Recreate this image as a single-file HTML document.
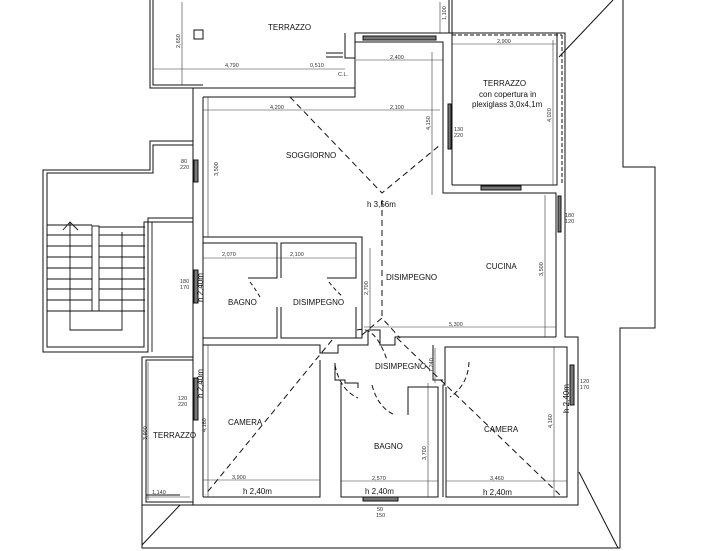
<!DOCTYPE html>
<html><head><meta charset="utf-8"><style>
html,body{margin:0;padding:0;background:#fff;}
svg{display:block;}
text{font-family:"Liberation Sans",sans-serif;fill:#111;}
.s{font-size:5.5px;fill:#333}
.r{font-size:8px}
</style></head><body>
<svg width="710" height="551" viewBox="0 0 710 551" xmlns="http://www.w3.org/2000/svg">
<g fill="none" stroke="#111" stroke-width="1">
<polyline points="623,0 623,167 655,167 655,328 620,328 620,548 142,548 142,505"/>
<line x1="613" y1="0" x2="559" y2="57"/>
<line x1="579" y1="472" x2="618" y2="548"/>
<line x1="142" y1="545" x2="180" y2="505"/>
<polyline points="150,0 150,88 193,88"/>
<polyline points="153,0 153,85 203,85"/>
<polyline points="449,0 449,33"/>
<polyline points="452,0 452,33"/>
<rect x="194" y="30" width="9" height="9"/>
<line x1="326" y1="53" x2="343" y2="53"/><line x1="326" y1="57" x2="343" y2="57"/>
<polyline points="193,141 150,141 150,170 43,170 43,352 148,352 148,218 193,218"/>
<polyline points="193,145 153,145 153,173 47,173 47,347 144,347 144,222 193,222"/>
<g stroke-width="0.9">
<line x1="47" y1="225" x2="92" y2="225"/><line x1="99" y1="227" x2="145" y2="227"/>
<line x1="47" y1="235" x2="92" y2="235"/><line x1="99" y1="235" x2="145" y2="235"/>
<line x1="47" y1="246" x2="92" y2="246"/><line x1="99" y1="246" x2="145" y2="246"/>
<line x1="47" y1="257" x2="92" y2="257"/><line x1="99" y1="257" x2="145" y2="257"/>
<line x1="47" y1="268" x2="92" y2="268"/><line x1="99" y1="268" x2="145" y2="268"/>
<line x1="47" y1="279" x2="92" y2="279"/><line x1="99" y1="279" x2="145" y2="279"/>
<line x1="47" y1="289" x2="92" y2="289"/><line x1="99" y1="289" x2="145" y2="289"/>
<line x1="47" y1="300" x2="92" y2="300"/><line x1="99" y1="300" x2="145" y2="300"/>
<line x1="47" y1="311" x2="145" y2="311"/>
<rect x="92" y="226" width="7" height="85"/>
<polyline points="70,222 70,330 122,330 122,232"/>
<polyline points="63,230 70,222 78,230"/>
<line x1="152" y1="222" x2="152" y2="352"/>
</g>
<rect x="142" y="357" width="51" height="148"/>
<rect x="146" y="360" width="47" height="142"/>
<line x1="146" y1="495" x2="180" y2="495"/>
<polyline points="193,88 355,88 355,33 565,33 565,193 565,337 578,337 578,472 578,505 193,505 193,88"/>
<line x1="203" y1="97" x2="203" y2="497"/>
<polyline points="203,97 355,97 355,58 345,58 345,33"/>
<polyline points="355,42 443,42 443,187"/>
<rect x="363" y="36" width="73" height="4" fill="#777"/>
<line x1="452" y1="33" x2="452" y2="185"/>
<polyline points="443,187 443,193 556,193 556,337"/>
<polyline points="452,185 557,185 557,33"/>
<rect x="448" y="104" width="3" height="45" fill="#777"/>
<rect x="481" y="186" width="40" height="4" fill="#777"/>
<rect x="558" y="196" width="3" height="36" fill="#777"/>
<line x1="452" y1="35" x2="562" y2="35" stroke-dasharray="4,2"/>
<line x1="562" y1="35" x2="562" y2="185" stroke-dasharray="4,2"/>
<rect x="194" y="160" width="4" height="22" fill="#777"/>
<rect x="194" y="270" width="4" height="33" fill="#777"/>
<rect x="194" y="378" width="4" height="42" fill="#777"/>
<rect x="570" y="365" width="4" height="40" fill="#777"/>
<rect x="363" y="497" width="35" height="4" fill="#777"/>
<polyline points="203,237 362,237 362,338 347,338"/>
<polyline points="203,243 277,243 277,278 248,278"/>
<polyline points="281,278 281,243 356,243 356,278 327,278"/>
<polyline points="277,307 277,338 203,338"/>
<polyline points="281,307 281,338 356,338 356,307"/>
<polyline points="203,345 320,345 320,353 338,353 338,345 368,345 368,330 380,330 380,345 395,345 395,337 556,337"/>
<polyline points="335,363 335,380 345,380 345,383 358,383 358,388"/>
<polyline points="203,497 320,497 320,360"/>
<polyline points="341,383 341,497 438,497 438,387 408,387 408,415"/>
<polyline points="443,497 443,385 445,385 445,347 567,347 567,497 446,497 446,387"/>
<polyline points="433,345 433,380 443,380"/>
<path d="M335,365 Q340,390 358,398" stroke-dasharray="5,3"/>
<path d="M372,385 Q378,408 395,415" stroke-dasharray="5,3"/>
<path d="M469,362 Q468,385 450,397" stroke-dasharray="5,3"/>
<path d="M357,330 Q375,325 387,360" stroke-dasharray="5,3"/>
<path d="M250,282 Q256,290 260,297" stroke-dasharray="4,3"/>
<path d="M329,282 Q335,290 343,297" stroke-dasharray="4,3"/>
<g stroke-dasharray="6,4">
<polyline points="290,97 382,193 440,145"/>
<line x1="382" y1="200" x2="382" y2="318"/>
<polyline points="362,335 382,318 400,338"/>
<line x1="332" y1="340" x2="205" y2="495"/>
<line x1="397" y1="338" x2="560" y2="495"/>
</g>
<g stroke-width="0.6" stroke="#333">
<line x1="153" y1="69" x2="345" y2="69"/>
<line x1="356" y1="60" x2="443" y2="60"/>
<line x1="203" y1="110" x2="440" y2="110"/>
<line x1="452" y1="44" x2="556" y2="44"/>
<line x1="432" y1="52" x2="432" y2="195"/>
<line x1="553" y1="40" x2="553" y2="185"/>
<line x1="182" y1="2" x2="182" y2="85"/>
<line x1="440" y1="2" x2="440" y2="33"/>
<line x1="208" y1="97" x2="208" y2="237"/>
<line x1="203" y1="258" x2="356" y2="258"/>
<line x1="370" y1="248" x2="370" y2="330"/>
<line x1="364" y1="327" x2="556" y2="327"/>
<line x1="545" y1="195" x2="545" y2="337"/>
<line x1="435" y1="348" x2="435" y2="383"/>
<line x1="208" y1="345" x2="208" y2="497"/>
<line x1="203" y1="480" x2="320" y2="480"/>
<line x1="341" y1="481" x2="438" y2="481"/>
<line x1="446" y1="481" x2="567" y2="481"/>
<line x1="428" y1="383" x2="428" y2="497"/>
<line x1="554" y1="347" x2="554" y2="497"/>
<line x1="146" y1="497" x2="190" y2="497"/>
<line x1="148" y1="362" x2="148" y2="500"/>
</g>
</g>
<text class="r" x="268" y="30">TERRAZZO</text>
<text class="r" x="483" y="86">TERRAZZO</text>
<text class="r" x="479" y="97" font-size="7.5">con copertura in</text>
<text class="r" x="472" y="107" font-size="7.5">plexiglass 3,0x4,1m</text>
<text class="r" x="286" y="158">SOGGIORNO</text>
<text class="r" x="367" y="207">h 3,56m</text>
<text class="r" x="386" y="280">DISIMPEGNO</text>
<text class="r" x="486" y="269">CUCINA</text>
<text class="r" x="228" y="305">BAGNO</text>
<text class="r" x="293" y="305">DISIMPEGNO</text>
<text class="r" x="375" y="369">DISIMPEGNO</text>
<text class="r" x="228" y="425">CAMERA</text>
<text class="r" x="374" y="449">BAGNO</text>
<text class="r" x="484" y="432">CAMERA</text>
<text class="r" x="153" y="438">TERRAZZO</text>
<text class="r" x="243" y="494">h 2,40m</text>
<text class="r" x="365" y="494">h 2,40m</text>
<text class="r" x="483" y="495">h 2,40m</text>
<text class="r" transform="translate(203,302) rotate(-90)">h 2,40m</text>
<text class="r" transform="translate(203,398) rotate(-90)">h 2,40m</text>
<text class="r" transform="translate(569,413) rotate(-90)">h 2,40m</text>
<text class="s" x="225" y="67">4,790</text>
<text class="s" x="310" y="67">0,510</text>
<text class="s" x="338" y="76">C.L.</text>
<text class="s" x="390" y="59">2,400</text>
<text class="s" x="497" y="43">2,900</text>
<text class="s" x="270" y="109">4,200</text>
<text class="s" x="390" y="109">2,100</text>
<text class="s" x="222" y="256">2,070</text>
<text class="s" x="290" y="256">2,100</text>
<text class="s" x="449" y="326">5,300</text>
<text class="s" x="232" y="479">3,900</text>
<text class="s" x="372" y="480">2,570</text>
<text class="s" x="490" y="480">3,460</text>
<text class="s" x="152" y="494">1,140</text>
<text class="s" transform="translate(180,48) rotate(-90)">2,650</text>
<text class="s" transform="translate(446,20) rotate(-90)">1,100</text>
<text class="s" transform="translate(430,130) rotate(-90)">4,150</text>
<text class="s" transform="translate(551,122) rotate(-90)">4,020</text>
<text class="s" transform="translate(218,176) rotate(-90)">3,500</text>
<text class="s" transform="translate(368,295) rotate(-90)">2,700</text>
<text class="s" transform="translate(543,276) rotate(-90)">3,500</text>
<text class="s" transform="translate(433,372) rotate(-90)">1,240</text>
<text class="s" transform="translate(206,432) rotate(-90)">4,160</text>
<text class="s" transform="translate(426,460) rotate(-90)">3,700</text>
<text class="s" transform="translate(552,428) rotate(-90)">4,160</text>
<text class="s" transform="translate(147,440) rotate(-90)">3,900</text>
<text class="s" x="181" y="163" font-size="4.5">80</text><text class="s" x="180" y="169" font-size="4.5">220</text>
<text class="s" x="180" y="283" font-size="4.5">180</text><text class="s" x="180" y="289" font-size="4.5">170</text>
<text class="s" x="178" y="400" font-size="4.5">120</text><text class="s" x="178" y="406" font-size="4.5">220</text>
<text class="s" x="454" y="131" font-size="4.5">130</text><text class="s" x="454" y="137" font-size="4.5">220</text>
<text class="s" x="565" y="217" font-size="4.5">180</text><text class="s" x="565" y="223" font-size="4.5">120</text>
<text class="s" x="580" y="383" font-size="4.5">120</text><text class="s" x="580" y="389" font-size="4.5">170</text>
<text class="s" x="377" y="511" font-size="4.5">50</text><text class="s" x="376" y="517" font-size="4.5">150</text>
</svg>
</body></html>
